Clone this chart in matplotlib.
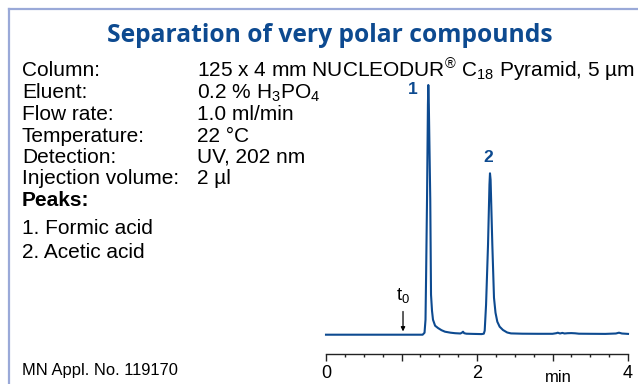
import matplotlib
matplotlib.use("Agg")
import matplotlib.pyplot as plt
from matplotlib.lines import Line2D

plt.rcParams["font.family"] = ["Liberation Sans", "DejaVu Sans"]
plt.rcParams["mathtext.fontset"] = "custom"
plt.rcParams["mathtext.rm"] = "Liberation Sans"
plt.rcParams["mathtext.it"] = "Liberation Sans"
plt.rcParams["mathtext.bf"] = "Liberation Sans:bold"

W, H = 638, 384

# Chromatogram trace: retention time (min) vs detector signal (arbitrary units)
time_min = [0.00, 0.50, 1.00, 1.28, 1.305, 1.318, 1.326, 1.338, 1.350, 1.355,
            1.362, 1.381, 1.391, 1.404, 1.417, 1.445, 1.483, 1.530, 1.576, 1.65,
            1.71, 1.78, 1.80, 1.815, 1.83, 1.86, 1.95, 2.06, 2.09, 2.102,
            2.12, 2.146, 2.165, 2.172, 2.18, 2.203, 2.225, 2.245, 2.269, 2.30,
            2.344, 2.40, 2.45, 2.60, 2.80, 3.00, 3.05, 3.07, 3.10, 3.13,
            3.16, 3.20, 3.25, 3.30, 3.35, 3.50, 3.70, 3.84, 3.88, 3.92, 4.00]
signal = [0.0, 0.0, 0.0, 0.0, 2.0, 15.0, 60.0, 135.0, 230.0, 249.7,
          230.0, 135.0, 40.0, 24.0, 15.0, 9.0, 6.7, 4.5, 3.0, 2.0,
          1.5, 1.2, 2.0, 3.0, 1.5, 1.0, 0.8, 0.6, 1.0, 4.0,
          30.0, 90.0, 150.0, 161.4, 155.0, 90.0, 37.0, 22.0, 13.0, 8.0,
          4.7, 2.2, 1.3, 1.0, 0.9, 0.9, 1.5, 2.0, 1.2, 1.8,
          1.2, 1.5, 1.6, 1.4, 1.0, 0.9, 0.8, 1.2, 2.0, 1.2, 0.8]

# Peak annotations
peak_ids = ["1", "2"]
peak_times = [1.355, 2.172]
peak_heights = [249.7, 161.4]
t0_time = 1.02

# Axis ticks
major_ticks = [0, 1, 2, 3, 4]
minor_ticks = [i * 0.25 for i in range(17)]
tick_labels = ["0", "", "2", "", "4"]

# Method conditions
cond_labels = ["Column:", "Eluent:", "Flow rate:", "Temperature:",
               "Detection:", "Injection volume:"]
cond_values = [r"125 x 4 mm NUCLEODUR$^{\mathregular{®}}$ C$_{\mathregular{18}}$ Pyramid, 5 µm",
               r"0.2 % H$_{\mathregular{3}}$PO$_{\mathregular{4}}$",
               "1.0 ml/min", "22 °C", "UV, 202 nm", "2 µl"]
peak_names = ["1. Formic acid", "2. Acetic acid"]

title = "Separation of very polar compounds"
footer = "MN Appl. No. 119170"

blue = "#0d4a90"
frame_blue = "#9aa9d8"
body_size = 15


def fx(px):
    return px / W


def fy(py):
    return 1 - py / H


fig = plt.figure(figsize=(W / 100, H / 100), dpi=100)

# Frame along left and top edges
fig.add_artist(Line2D([fx(8.5), fx(8.5)], [fy(8.5), 0], color=frame_blue, lw=1.6,
                      transform=fig.transFigure))
fig.add_artist(Line2D([fx(8.5), 1], [fy(8.5), fy(8.5)], color=frame_blue, lw=1.6,
                      transform=fig.transFigure))

fig.text(fx(330), fy(36), title, ha="center", va="center", color=blue,
         fontsize=17.7, fontweight="bold", family=["Open Sans", "DejaVu Sans"])

row_y = [70, 93, 115, 136, 157, 178]
for lab, val, y in zip(cond_labels, cond_values, row_y):
    fig.text(fx(22), fy(y), lab, ha="left", va="center", fontsize=body_size)
    fig.text(fx(197), fy(y), val, ha="left", va="center", fontsize=body_size)

fig.text(fx(22), fy(201), "Peaks:", ha="left", va="center", fontsize=body_size,
         fontweight="bold")
for name, y in zip(peak_names, [228, 252]):
    fig.text(fx(22), fy(y), name, ha="left", va="center", fontsize=body_size)

fig.text(fx(22), fy(371), footer, ha="left", va="center", fontsize=11.9)

# Chromatogram axes: bottom spine at px 354, x range 0..4 at px 326..628
base_px = 334.7
bottom_px, top_px = 354, 80
ax = fig.add_axes([fx(326), fy(bottom_px), (628 - 326) / W, (bottom_px - top_px) / H])
ax.set_xlim(0, 4)
ax.set_ylim(-(bottom_px - base_px), base_px - top_px)
ax.patch.set_alpha(0)
for s in ["top", "right", "left"]:
    ax.spines[s].set_visible(False)
ax.spines["bottom"].set_linewidth(1.0)
ax.spines["bottom"].set_color("#222222")
ax.set_yticks([])
ax.set_xticks(major_ticks)
ax.set_xticklabels(tick_labels)
ax.set_xticks(minor_ticks, minor=True)
ax.tick_params(axis="x", which="major", direction="out", length=5, width=1.0,
               color="#222222", labelsize=13, pad=3)
ax.tick_params(axis="x", which="minor", direction="out", length=2.5, width=1.0,
               color="#222222")

ax.plot(time_min, signal, color=blue, lw=1.5, solid_joinstyle="round",
        clip_on=False)

label_offsets = [(-0.2, -5), (-0.02, 16)]
for pid, t, h, (dx, dy) in zip(peak_ids, peak_times, peak_heights, label_offsets):
    ax.text(t + dx, h + dy, pid, ha="center", va="center", color=blue,
            fontsize=12.5, fontweight="bold")

ax.annotate("", xy=(t0_time, 0.5), xytext=(t0_time, 26),
            arrowprops=dict(arrowstyle="-|>", color="black", lw=0.9,
                            mutation_scale=6))
ax.text(t0_time, 39, r"t$_{\mathregular{0}}$", ha="center", va="center",
        fontsize=13.5)

fig.text(fx(558), fy(377), "min", ha="center", va="center", fontsize=12)

fig.savefig("out.png", dpi=100)
